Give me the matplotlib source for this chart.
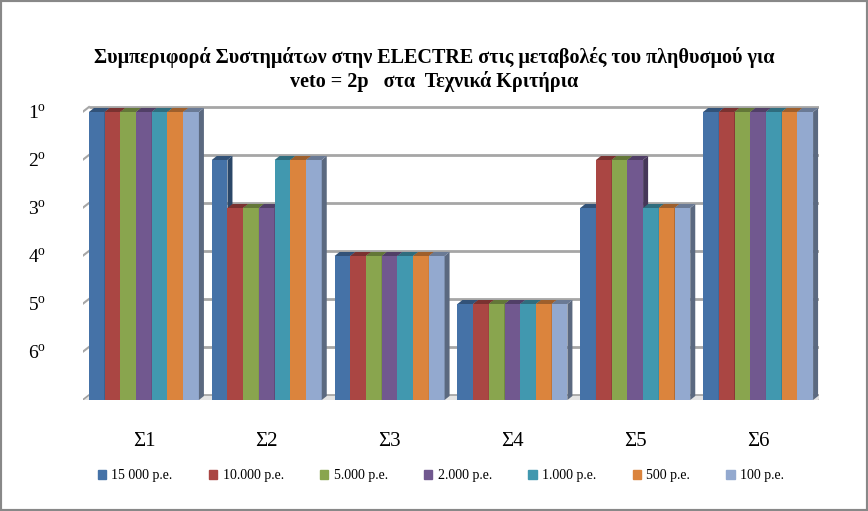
import matplotlib.pyplot as plt
import matplotlib.patches as mpatches
from matplotlib.patches import Polygon, Rectangle
import numpy as np

plt.rcParams['font.family'] = ['Liberation Serif', 'DejaVu Serif']
plt.rcParams['mathtext.fontset'] = 'custom'
plt.rcParams['mathtext.rm'] = 'Liberation Serif'

# --- data: rank of each system (1 = best) per population size ---
systems = ['Σ1', 'Σ2', 'Σ3', 'Σ4', 'Σ5', 'Σ6']
series = ['15 000 p.e.', '10.000 p.e.', '5.000 p.e.', '2.000 p.e.',
          '1.000 p.e.', '500 p.e.', '100 p.e.']
ranks = [
    [1, 2, 4, 5, 3, 1],   # 15 000
    [1, 3, 4, 5, 2, 1],   # 10.000
    [1, 3, 4, 5, 2, 1],   # 5.000
    [1, 3, 4, 5, 2, 1],   # 2.000
    [1, 2, 4, 5, 3, 1],   # 1.000
    [1, 2, 4, 5, 3, 1],   # 500
    [1, 2, 4, 5, 3, 1],   # 100
]
rank_ticks = [1, 2, 3, 4, 5, 6]
rank_labels = [f"{r}$^{{\\mathregular{{o}}}}$" for r in rank_ticks]

colors = ['#4572A7', '#AA4643', '#89A54E', '#71588F', '#4198AF', '#DB843D', '#93A9CF']

W, H = 868, 511
fig = plt.figure(figsize=(W / 100, H / 100), dpi=100)

# axes placed in pixels (front plane of the bars)
ax_l, ax_r = 82.5, 819.5
y_bot, y_top = 400.0, 97.6
ax = fig.add_axes([ax_l / W, (H - y_bot) / H, (ax_r - ax_l) / W, (y_bot - y_top) / H])
ax.set_xlim(-0.5, 5.5)
ax.set_ylim(7, 0.7)
for s in ax.spines.values():
    s.set_visible(False)

px_x = (ax_r - ax_l) / 6.0      # pixels per x unit
px_y = (y_bot - y_top) / 6.3    # pixels per rank unit


def off(dx_px, dy_px):
    # pixel offset (right, up) -> data offset
    return dx_px / px_x, -dy_px / px_y


# back wall gridlines and left wall ticks
wx, wy = off(6.5, 5)
for r in rank_ticks:
    ax.plot([-0.5 + wx, 5.5 + wx], [r + wy, r + wy], color='#A6A6A6', lw=2, zorder=1,
            solid_capstyle='butt')
    ax.plot([-0.5 - wx, -0.5 + wx], [r - wy, r + wy], color='#A6A6A6', lw=1.5, zorder=1)

# floor
floor = Polygon([(-0.5 - wx, 7 - wy), (5.5 - wx, 7 - wy), (5.5 + wx, 7 + wy), (-0.5 + wx, 7 + wy)],
                closed=True, facecolor='#E4E4E4', edgecolor='#A0A0A0', lw=1.2, zorder=1)
ax.add_patch(floor)
sx, sy = off(0, -3)
ax.add_patch(Polygon([(-0.5 - wx, 7 - wy), (5.5 - wx, 7 - wy), (5.5 - wx, 7 - wy + sy),
                      (-0.5 - wx, 7 - wy + sy)], closed=True, facecolor='#C8C8C8',
                     edgecolor='#A0A0A0', lw=0.8, zorder=1))
ax.add_patch(Polygon([(5.5 - wx, 7 - wy), (5.5 + wx, 7 + wy), (5.5 + wx, 7 + wy + sy),
                      (5.5 - wx, 7 - wy + sy)], closed=True, facecolor='#B8B8B8',
                     edgecolor='#A0A0A0', lw=0.8, zorder=1))


def shade(c, f):
    c = np.array(plt.matplotlib.colors.to_rgb(c))
    return tuple(c * f)


n = len(series)
bw = 110.0 / px_x / n
x = np.arange(len(systems))
bdx, bdy = off(5, 4)
for i, (name, vals) in enumerate(zip(series, ranks)):
    xs = x + (i - (n - 1) / 2) * bw
    vals = np.array(vals, dtype=float)
    z = 10 + 3 * i
    ax.bar(xs, vals - 7, bottom=7, width=bw, color=colors[i], zorder=z, label=name)
    for xc, v in zip(xs, vals):
        xl, xr = xc - bw / 2, xc + bw / 2
        ax.add_patch(Polygon([(xr, 7), (xr, v), (xr + bdx, v + bdy), (xr + bdx, 7 + bdy)],
                             closed=True, facecolor=shade(colors[i], 0.62), lw=0, zorder=z + 1))
        ax.add_patch(Polygon([(xl, v), (xr, v), (xr + bdx, v + bdy), (xl + bdx, v + bdy)],
                             closed=True, facecolor=shade(colors[i], 0.72), lw=0, zorder=z + 2))

ax.set_xticks(x, systems, fontsize=15)
ax.set_yticks(rank_ticks, rank_labels, fontsize=14)
ax.tick_params(axis='both', length=0)
ax.tick_params(axis='x', pad=23)
ax.tick_params(axis='y', pad=26)

fig.text(0.5, 1 - 58 / H, 'Συμπεριφορά Συστημάτων στην ELECTRE στις μεταβολές του πληθυσμού για',
         ha='center', va='center', fontsize=14.5, fontweight='bold')
fig.text(0.5, 1 - 82 / H, 'veto = 2p   στα  Τεχνικά Κριτήρια',
         ha='center', va='center', fontsize=14.5, fontweight='bold')

handles = [mpatches.Patch(color=c, label=s) for c, s in zip(colors, series)]
fig.legend(handles=handles, loc='center', bbox_to_anchor=(0.508, 1 - 476 / H), ncol=7,
           frameon=False, fontsize=10, handlelength=0.6, handleheight=0.6,
           handletextpad=0.4, columnspacing=2.6)

fig.add_artist(Rectangle((0, 0), 1, 1, transform=fig.transFigure, fill=False,
                         edgecolor='#888888', lw=3))

fig.savefig('out.png', dpi=100)
